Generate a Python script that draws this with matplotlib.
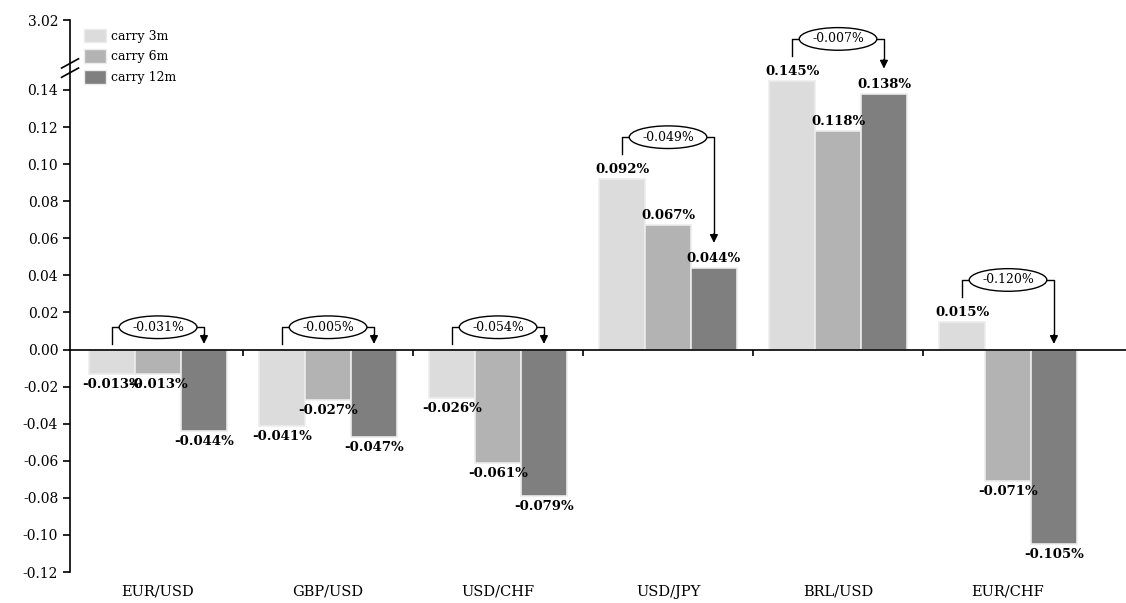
import matplotlib.pyplot as plt
import numpy as np
from matplotlib.patches import Patch

plt.rcParams['font.family'] = ['DejaVu Serif']

pairs = ['EUR/USD', 'GBP/USD', 'USD/CHF', 'USD/JPY', 'BRL/USD', 'EUR/CHF']
carry_3m = [-0.013, -0.041, -0.026, 0.092, 0.145, 0.015]
carry_6m = [-0.013, -0.027, -0.061, 0.067, 0.118, -0.071]
carry_12m = [-0.044, -0.047, -0.079, 0.044, 0.138, -0.105]
diff_12m_3m = [-0.031, -0.005, -0.054, -0.049, -0.007, -0.120]
series_names = ['carry 3m', 'carry 6m', 'carry 12m']
colors = ['#dcdcdc', '#b3b3b3', '#7f7f7f']

fig = plt.figure(figsize=(11.26, 6.03), dpi=100)
ax = fig.add_axes([0.0622, 0.0514, 0.9378, 0.9154])

x = np.arange(len(pairs))
w = 0.27
series = [carry_3m, carry_6m, carry_12m]
for k, vals in enumerate(series):
    xs = x + (k - 1) * w
    ax.bar(xs, vals, w, color=colors[k], edgecolor='#ececec', linewidth=1.2,
           label=series_names[k], zorder=2)
    for xi, v in zip(xs, vals):
        if v >= 0:
            ax.annotate(f'{v:.3f}%', (xi, v), xytext=(0, 2), textcoords='offset points',
                        ha='center', va='bottom', fontsize=9.5, fontweight='bold')
        else:
            ax.annotate(f'{v:.3f}%', (xi, v), xytext=(0, -3), textcoords='offset points',
                        ha='center', va='top', fontsize=9.5, fontweight='bold')

# difference brackets 12m vs 3m
def base(v):
    return v + 0.0135 if v > 0 else 0.003

for i in range(len(pairs)):
    v1, v3 = carry_3m[i], carry_12m[i]
    x1, x3 = x[i] - w, x[i] + w
    y1, y3 = base(v1), base(v3)
    top = max(y1, y3) + 0.009
    ax.plot([x1, x1, x3, x3], [y1, top, top, y3 + 0.004], color='black', lw=1, zorder=3)
    ax.annotate('', xy=(x3, y3), xytext=(x3, y3 + 0.005),
                arrowprops=dict(arrowstyle='-|>', color='black', lw=1,
                                mutation_scale=12, shrinkA=0, shrinkB=0), zorder=4)
    ax.text(x[i], top, f'{diff_12m_3m[i]:.3f}%', ha='center', va='center', fontsize=9,
            bbox=dict(boxstyle='ellipse,pad=0.12', fc='white', ec='black', lw=1), zorder=5)

ax.set_xlim(-0.518, 5.694)
ax.set_ylim(-0.12, 0.1777)
yt = list(np.round(np.arange(-0.12, 0.141, 0.02), 2))
ax.set_yticks(yt + [0.1777])
ax.set_yticklabels([f'{t:.2f}' for t in yt] + ['3.02'], fontsize=10)
ax.tick_params(axis='y', length=5, width=1.2)

ax.spines['top'].set_visible(False)
ax.spines['right'].set_visible(False)
ax.spines['left'].set_linewidth(1.2)
ax.spines['bottom'].set_position(('data', 0))
ax.spines['bottom'].set_linewidth(1.2)
ax.set_xticks(np.arange(len(pairs) - 1) + 0.5)
ax.set_xticklabels([])
ax.tick_params(axis='x', length=4, width=1.2, direction='out')
for i, p in enumerate(pairs):
    ax.text(i, -0.127, p, ha='center', va='top', fontsize=10.5)

# axis break marks
yb = 0.1518
trans = ax.get_yaxis_transform()
for d in (-0.0025, 0.0025):
    ax.plot([-0.008, 0.008], [yb + d - 0.0025, yb + d + 0.0025], transform=trans,
            color='black', lw=1.2, clip_on=False, zorder=6)

handles = [Patch(facecolor=c, edgecolor='#ececec', label=n) for c, n in zip(colors, series_names)]
ax.legend(handles=handles, loc='upper left', bbox_to_anchor=(0.003, 1.005), frameon=False,
          fontsize=9, handlelength=1.75, handleheight=1.3, handletextpad=0.4,
          labelspacing=0.55)

fig.savefig('out.png', dpi=100)
